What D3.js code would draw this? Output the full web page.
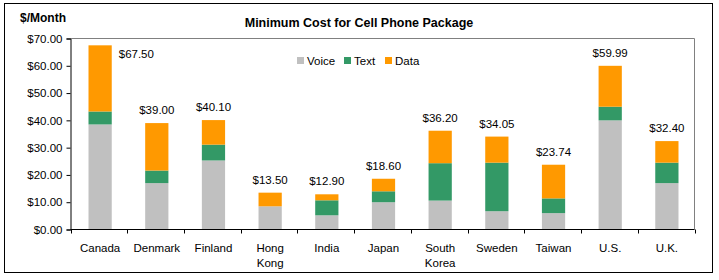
<!DOCTYPE html>
<html>
<head>
<meta charset="utf-8">
<script src="https://cdn.jsdelivr.net/npm/d3@7"></script>
<style>
  body { margin: 0; background: #fff; }
  text { font-family: "Liberation Sans", Arial, sans-serif; fill: #000; }
</style>
</head>
<body>
<script>
// chart data
var countries = ["Canada", "Denmark", "Finland", "Hong Kong", "India", "Japan", "South Korea", "Sweden", "Taiwan", "U.S.", "U.K."];
var voice = [38.5, 17.0, 25.3, 8.5, 5.2, 10.0, 10.6, 6.7, 6.0, 40.0, 17.0];
var textCost = [4.75, 4.6, 5.8, 0, 5.5, 4.0, 13.7, 17.8, 5.4, 5.0, 7.5];
var dataCost = [24.25, 17.4, 9.0, 5.0, 2.2, 4.6, 11.9, 9.55, 12.34, 14.99, 7.9];
var totalLabels = ["$67.50", "$39.00", "$40.10", "$13.50", "$12.90", "$18.60", "$36.20", "$34.05", "$23.74", "$59.99", "$32.40"];
var seriesNames = ["Voice", "Text", "Data"];
var seriesColors = ["#c0c0c0", "#339966", "#ff9900"];
var yTicks = [0, 10, 20, 30, 40, 50, 60, 70];

var width = 719, height = 280;
var svg = d3.select("body").append("svg")
    .attr("width", width)
    .attr("height", height);

// outer frame
svg.append("rect")
    .attr("x", 4.5).attr("y", 3.5)
    .attr("width", 708).attr("height", 269)
    .attr("fill", "#fff")
    .attr("stroke", "#000")
    .attr("stroke-width", 1);

var plot = { left: 70.5, right: 694.5, top: 38.5, bottom: 229.5 };

var x = d3.scaleBand()
    .domain(countries)
    .range([plot.left, plot.right])
    .paddingInner(0.59)
    .paddingOuter(0.3);

var y = d3.scaleLinear()
    .domain([0, 70])
    .range([plot.bottom, plot.top]);

// plot area border (top and right)
svg.append("path")
    .attr("d", "M" + plot.left + "," + plot.top + "H" + plot.right + "V" + plot.bottom)
    .attr("fill", "none")
    .attr("stroke", "#808080");

// stacked bars
var rows = countries.map(function(c, i) {
    return { country: c, Voice: voice[i], Text: textCost[i], Data: dataCost[i], label: totalLabels[i] };
});
var stack = d3.stack().keys(seriesNames)(rows);

svg.selectAll(".series")
    .data(stack)
    .enter().append("g")
    .attr("fill", function(d, i) { return seriesColors[i]; })
    .selectAll("rect")
    .data(function(d) { return d; })
    .enter().append("rect")
    .attr("x", function(d) { return x(d.data.country) + 1; })
    .attr("width", x.bandwidth())
    .attr("y", function(d) { return y(d[1]); })
    .attr("height", function(d) { return y(d[0]) - y(d[1]); });

// total labels
svg.selectAll(".total")
    .data(rows)
    .enter().append("text")
    .attr("class", "total")
    .attr("font-size", "11.5px")
    .attr("text-anchor", function(d, i) { return i === 0 ? "start" : "middle"; })
    .attr("x", function(d, i) {
        return i === 0 ? x(d.country) + x.bandwidth() + 8 : x(d.country) + x.bandwidth() / 2 + 1;
    })
    .attr("y", function(d, i) {
        var top = y(d.Voice + d.Text + d.Data);
        return i === 0 ? top + 13 : top - 9;
    })
    .text(function(d) { return d.label; });

// y axis
var yAxis = svg.append("g")
    .attr("transform", "translate(" + plot.left + ",0)")
    .call(d3.axisLeft(y).tickValues(yTicks).tickSize(4).tickPadding(4)
        .tickFormat(function(d) { return "$" + d3.format(".2f")(d); }));
yAxis.select(".domain").attr("stroke", "#000");
yAxis.selectAll("text").attr("font-size", "11.5px").attr("font-family", "Liberation Sans, Arial, sans-serif");

// x axis: line with ticks at category boundaries
svg.append("line")
    .attr("x1", plot.left).attr("x2", plot.right)
    .attr("y1", plot.bottom).attr("y2", plot.bottom)
    .attr("stroke", "#000");
var step = (plot.right - plot.left) / countries.length;
svg.selectAll(".xtick")
    .data(d3.range(countries.length + 1))
    .enter().append("line")
    .attr("x1", function(i) { return Math.round(plot.left + i * step) + 0.5; })
    .attr("x2", function(i) { return Math.round(plot.left + i * step) + 0.5; })
    .attr("y1", plot.bottom).attr("y2", plot.bottom + 4)
    .attr("stroke", "#000");

// category labels (wrap two-word names)
var xl = svg.selectAll(".xlabel")
    .data(countries)
    .enter().append("text")
    .attr("class", "xlabel")
    .attr("font-size", "11.5px")
    .attr("text-anchor", "middle")
    .attr("transform", function(d) {
        return "translate(" + (x(d) + x.bandwidth() / 2 + 1) + "," + (plot.bottom + 22) + ")";
    });
xl.selectAll("tspan")
    .data(function(d) { return d.split(" "); })
    .enter().append("tspan")
    .attr("x", 0)
    .attr("dy", function(d, i) { return i === 0 ? 0 : 15; })
    .text(function(d) { return d; });

// title and y unit
svg.append("text")
    .attr("x", 359).attr("y", 27)
    .attr("text-anchor", "middle")
    .attr("font-size", "12.5px")
    .attr("font-weight", "bold")
    .text("Minimum Cost for Cell Phone Package");

svg.append("text")
    .attr("x", 20).attr("y", 22)
    .attr("font-size", "12px")
    .attr("font-weight", "bold")
    .text("$/Month");

// legend
var legendX = [297, 344, 385];
var legend = svg.selectAll(".legend")
    .data(seriesNames)
    .enter().append("g")
    .attr("transform", function(d, i) { return "translate(" + legendX[i] + ",57)"; });
legend.append("rect")
    .attr("width", 7).attr("height", 7)
    .attr("fill", function(d, i) { return seriesColors[i]; });
legend.append("text")
    .attr("x", 10).attr("y", 8)
    .attr("font-size", "11.5px")
    .text(function(d) { return d; });
</script>
</body>
</html>
